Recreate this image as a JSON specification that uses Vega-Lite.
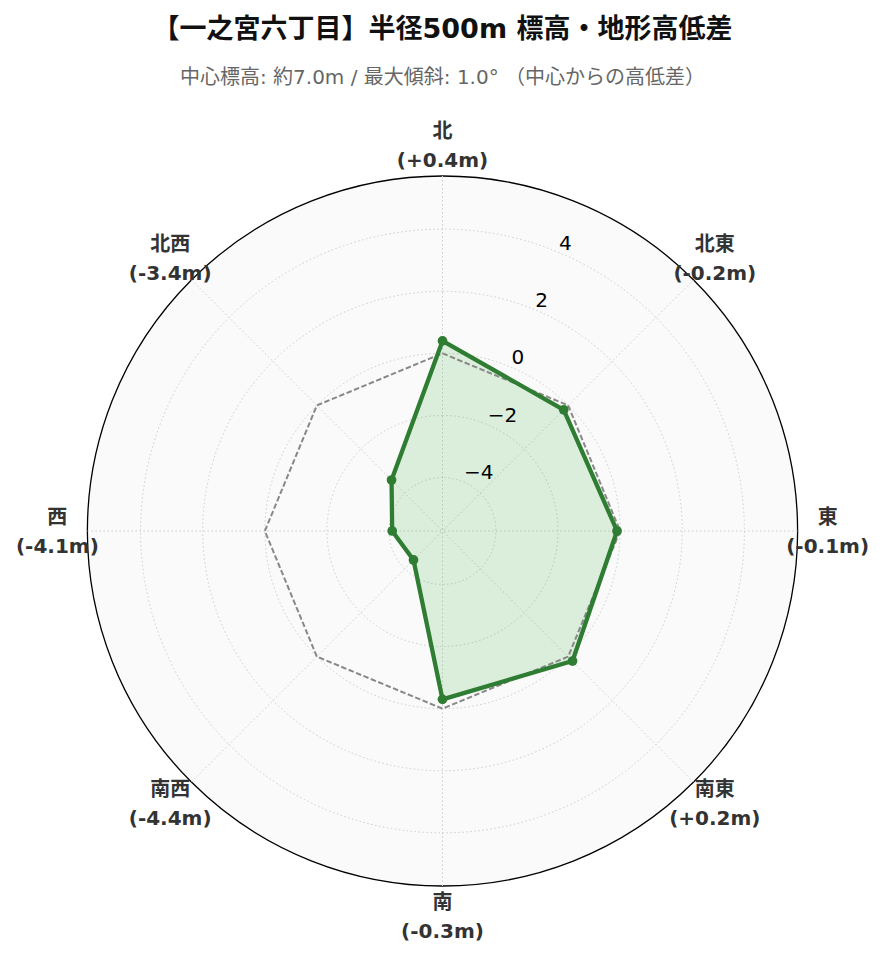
{
  "$schema": "https://vega.github.io/schema/vega-lite/v6.json",
  "width": 885,
  "height": 862,
  "autosize": "none",
  "padding": {"top": 100, "left": 0, "right": 0, "bottom": 0},
  "background": "white",
  "title": {
    "text": "【一之宮六丁目】半径500m 標高・地形高低差",
    "subtitle": "中心標高: 約7.0m / 最大傾斜: 1.0° （中心からの高低差）",
    "anchor": "middle",
    "font": "DejaVu Sans, Noto Sans CJK JP",
    "fontSize": 27,
    "fontWeight": "bold",
    "color": "#111111",
    "subtitleFont": "DejaVu Sans, Noto Sans CJK JP",
    "subtitleFontSize": 20,
    "subtitleColor": "#666666",
    "subtitlePadding": 24,
    "offset": 11.5
  },
  "config": {
    "view": {"stroke": null},
    "font": "DejaVu Sans, Noto Sans CJK JP"
  },
  "datasets": {
    "dirs": [
      {"i": 0, "dir": "北", "lbl": "北\n(+0.4m)", "v": 0.4},
      {"i": 1, "dir": "北東", "lbl": "北東\n(-0.2m)", "v": -0.2},
      {"i": 2, "dir": "東", "lbl": "東\n(-0.1m)", "v": -0.1},
      {"i": 3, "dir": "南東", "lbl": "南東\n(+0.2m)", "v": 0.2},
      {"i": 4, "dir": "南", "lbl": "南\n(-0.3m)", "v": -0.3},
      {"i": 5, "dir": "南西", "lbl": "南西\n(-4.4m)", "v": -4.4},
      {"i": 6, "dir": "西", "lbl": "西\n(-4.1m)", "v": -4.1},
      {"i": 7, "dir": "北西", "lbl": "北西\n(-3.4m)", "v": -3.4}
    ],
    "rings": [
      {"v": -4, "t": "−4"},
      {"v": -2, "t": "−2"},
      {"v": 0, "t": "0"},
      {"v": 2, "t": "2"},
      {"v": 4, "t": "4"}
    ]
  },
  "layer": [
    {
      "data": {"values": [{"v": 5.71}]},
      "mark": {"type": "arc", "fill": "#fafafa", "stroke": "#000000", "strokeWidth": 1.3},
      "encoding": {
        "theta": {"datum": 1, "type": "quantitative", "scale": {"domain": [0, 1], "range": [0, 6.2832]}, "stack": null},
        "radius": {"field": "v", "type": "quantitative", "stack": null, "scale": {"type": "linear", "domain": [-5.72, 5.71], "range": [0, 355], "zero": false, "nice": false}, "legend": null},
        "radius2": {"datum": -5.72}
      }
    },
    {
      "data": {"name": "rings"},
      "mark": {"type": "arc", "filled": false, "stroke": "#cccccc", "strokeWidth": 1, "strokeDash": [1.5, 2.5]},
      "encoding": {
        "theta": {"datum": 1, "type": "quantitative", "scale": {"domain": [0, 1], "range": [0, 6.2832]}, "stack": null},
        "radius": {"field": "v", "type": "quantitative", "stack": null, "scale": {"type": "linear", "domain": [-5.72, 5.71], "range": [0, 355], "zero": false, "nice": false}, "legend": null},
        "radius2": {"datum": -5.72}
      }
    },
    {
      "data": {"name": "dirs"},
      "transform": [
        {"calculate": "datum.i * PI / 4", "as": "th"},
        {"calculate": "11.43 * sin(datum.th)", "as": "ox"},
        {"calculate": "11.43 * cos(datum.th)", "as": "oy"}
      ],
      "mark": {"type": "rule", "stroke": "#cccccc", "strokeWidth": 1, "strokeDash": [1.5, 2.5]},
      "encoding": {
        "x": {"field": "ox", "type": "quantitative", "scale": {"domain": [-14.247, 14.247], "nice": false, "zero": false}, "axis": null},
        "y": {"field": "oy", "type": "quantitative", "scale": {"domain": [-13.876, 13.876], "nice": false, "zero": false}, "axis": null},
        "x2": {"datum": 0},
        "y2": {"datum": 0}
      }
    },
    {
      "data": {"name": "dirs"},
      "transform": [
        {"calculate": "datum.i * PI / 4", "as": "th"},
        {"calculate": "(datum.v + 5.72) * sin(datum.th)", "as": "x"},
        {"calculate": "(datum.v + 5.72) * cos(datum.th)", "as": "y"}
      ],
      "mark": {"type": "line", "interpolate": "linear-closed", "fill": "#4caf50", "fillOpacity": 0.18, "strokeOpacity": 0},
      "encoding": {
        "x": {"field": "x", "type": "quantitative", "scale": {"domain": [-14.247, 14.247], "nice": false, "zero": false}, "axis": null},
        "y": {"field": "y", "type": "quantitative", "scale": {"domain": [-13.876, 13.876], "nice": false, "zero": false}, "axis": null},
        "order": {"field": "i", "type": "quantitative"}
      }
    },
    {
      "data": {"name": "dirs"},
      "transform": [
        {"calculate": "datum.i * PI / 4", "as": "th"},
        {"calculate": "5.72 * sin(datum.th)", "as": "zx"},
        {"calculate": "5.72 * cos(datum.th)", "as": "zy"}
      ],
      "mark": {"type": "line", "interpolate": "linear-closed", "stroke": "#888888", "strokeWidth": 2, "strokeDash": [5.5, 2.5]},
      "encoding": {
        "x": {"field": "zx", "type": "quantitative", "scale": {"domain": [-14.247, 14.247], "nice": false, "zero": false}, "axis": null},
        "y": {"field": "zy", "type": "quantitative", "scale": {"domain": [-13.876, 13.876], "nice": false, "zero": false}, "axis": null},
        "order": {"field": "i", "type": "quantitative"}
      }
    },
    {
      "data": {"name": "dirs"},
      "transform": [
        {"calculate": "datum.i * PI / 4", "as": "th"},
        {"calculate": "(datum.v + 5.72) * sin(datum.th)", "as": "x"},
        {"calculate": "(datum.v + 5.72) * cos(datum.th)", "as": "y"}
      ],
      "mark": {"type": "line", "interpolate": "linear-closed", "stroke": "#2e7d32", "strokeWidth": 4.3, "strokeJoin": "round"},
      "encoding": {
        "x": {"field": "x", "type": "quantitative", "scale": {"domain": [-14.247, 14.247], "nice": false, "zero": false}, "axis": null},
        "y": {"field": "y", "type": "quantitative", "scale": {"domain": [-13.876, 13.876], "nice": false, "zero": false}, "axis": null},
        "order": {"field": "i", "type": "quantitative"}
      }
    },
    {
      "data": {"name": "dirs"},
      "transform": [
        {"calculate": "datum.i * PI / 4", "as": "th"},
        {"calculate": "(datum.v + 5.72) * sin(datum.th)", "as": "x"},
        {"calculate": "(datum.v + 5.72) * cos(datum.th)", "as": "y"}
      ],
      "mark": {"type": "point", "filled": true, "color": "#2e7d32", "size": 95, "opacity": 1},
      "encoding": {
        "x": {"field": "x", "type": "quantitative", "scale": {"domain": [-14.247, 14.247], "nice": false, "zero": false}, "axis": null},
        "y": {"field": "y", "type": "quantitative", "scale": {"domain": [-13.876, 13.876], "nice": false, "zero": false}, "axis": null}
      }
    },
    {
      "data": {"name": "rings"},
      "transform": [
        {"calculate": "(datum.v + 5.72) * sin(PI / 8)", "as": "x"},
        {"calculate": "(datum.v + 5.72) * cos(PI / 8)", "as": "y"}
      ],
      "mark": {"type": "text", "align": "left", "baseline": "alphabetic", "dx": 1, "dy": -2.5, "fontSize": 20, "color": "#000000", "font": "DejaVu Sans"},
      "encoding": {
        "x": {"field": "x", "type": "quantitative", "scale": {"domain": [-14.247, 14.247], "nice": false, "zero": false}, "axis": null},
        "y": {"field": "y", "type": "quantitative", "scale": {"domain": [-13.876, 13.876], "nice": false, "zero": false}, "axis": null},
        "text": {"field": "t", "type": "nominal"}
      }
    },
    {
      "data": {"name": "dirs"},
      "transform": [
        {"calculate": "datum.i * PI / 4", "as": "th"},
        {"calculate": "12.4 * sin(datum.th)", "as": "lx"},
        {"calculate": "12.4 * cos(datum.th)", "as": "ly"}
      ],
      "mark": {"type": "text", "align": "center", "baseline": "middle", "dy": -13.5, "lineBreak": "\n", "lineHeight": 29, "fontSize": 20, "fontWeight": "bold", "color": "#333333", "font": "DejaVu Sans, Noto Sans CJK JP"},
      "encoding": {
        "x": {"field": "lx", "type": "quantitative", "scale": {"domain": [-14.247, 14.247], "nice": false, "zero": false}, "axis": null},
        "y": {"field": "ly", "type": "quantitative", "scale": {"domain": [-13.876, 13.876], "nice": false, "zero": false}, "axis": null},
        "text": {"field": "lbl", "type": "nominal"}
      }
    }
  ]
}
